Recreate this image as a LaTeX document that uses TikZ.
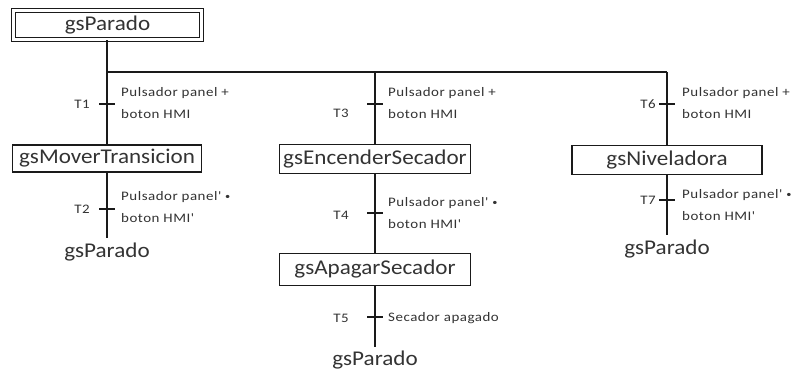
\documentclass[tikz,border=0pt]{standalone}
\usepackage{fontspec}
\setmainfont{Carlito}
\newfontfamily\statefont[FakeStretch=1.1]{Carlito}
\newfontfamily\condfont[FakeStretch=1.15,LetterSpace=4]{Carlito}
\definecolor{ink}{HTML}{1A1A1A}
\definecolor{txt}{HTML}{333333}
\newcommand{\andop}{{\fontsize{9}{9}\selectfont\raisebox{0.5pt}{•}}}
\begin{document}
\begin{tikzpicture}[x=1pt,y=-1pt,
  wire/.style={draw=ink, line width=1.6pt},
  tickline/.style={draw=ink, line width=1.4pt},
  statebox/.style={draw=ink, line width=1.4pt, inner sep=0pt, text=txt,
    font=\statefont\fontsize{21}{23}\selectfont},
  initbox/.style={statebox, double, double distance=2.6pt, line width=1.2pt},
  goto/.style={inner sep=0pt, text=txt, font=\statefont\fontsize{21}{23}\selectfont},
  tlabel/.style={inner sep=0pt, anchor=east, text=txt, font=\condfont\fontsize{13}{15}\selectfont},
  cond/.style={inner sep=0pt, anchor=north west, align=left, text=txt,
    font=\condfont\fontsize{13}{22}\selectfont}
]
\useasboundingbox[fill=white] (0,0) rectangle (799,376);

% initial step and the selection line
\node[initbox, minimum width=188pt, minimum height=29pt] (p0) at (107.5,25) {gsParado};
\coordinate (j0) at (107,72);
\coordinate (j3) at (375,72);
\coordinate (j6) at (667,72);

% states
\node[statebox, minimum width=189pt, minimum height=27pt] (s1) at (107,158.5) {gsMoverTransicion};
\node[statebox, minimum width=191pt, minimum height=29pt] (s3) at (375,159) {gsEncenderSecador};
\node[statebox, minimum width=190pt, minimum height=29pt] (s6) at (667,160) {gsNiveladora};
\node[statebox, minimum width=191pt, minimum height=32pt] (s4) at (375,269.5) {gsApagarSecador};

% loose ends returning to the initial step
\coordinate (e2) at (107,238);
\coordinate (e7) at (667,235);
\coordinate (e5) at (375,347);
\node[goto, anchor=north] (g2) at (107,243) {gsParado};
\node[goto, anchor=north] (g7) at (667,240) {gsParado};
\node[goto, anchor=north] (g5) at (375,351) {gsParado};

% connectors
\draw[wire] (p0.south -| j0) -- (j0);
\draw[wire] (j0) -- (j6);
\draw[wire] (j0) -- (j0 |- s1.north);
\draw[wire] (j3) -- (j3 |- s3.north);
\draw[wire] (j6) -- (j6 |- s6.north);
\draw[wire] (s1.south -| j0) -- (e2);
\draw[wire] (s6.south -| j6) -- (e7);
\draw[wire] (s3.south -| j3) -- (j3 |- s4.north);
\draw[wire] (s4.south -| j3) -- (e5);

% transitions
\coordinate (k1) at (107,104);
\coordinate (k3) at (375,104);
\coordinate (k6) at (667,104);
\coordinate (k2) at (107,209);
\coordinate (k4) at (375,213);
\coordinate (k7) at (667,200);
\coordinate (k5) at (375,317);
\foreach \k in {k1,k2,k3,k4,k5,k6,k7}
  \draw[tickline] ([xshift=-8pt]\k) -- ([xshift=8pt]\k);

\node[tlabel] (l1) at (90,104) {T1};
\node[tlabel] (l3) at (349,113) {T3};
\node[tlabel] (l6) at (656,104) {T6};
\node[tlabel] (l2) at (90,209) {T2};
\node[tlabel] (l4) at (349,215) {T4};
\node[tlabel] (l7) at (656,200) {T7};
\node[tlabel] (l5) at (349,318) {T5};

\node[cond] (c1) at (121,87) {Pulsador panel +\\boton HMI};
\node[cond] (c3) at (388,87) {Pulsador panel +\\boton HMI};
\node[cond] (c6) at (682,87) {Pulsador panel +\\boton HMI};
\node[cond] (c2) at (121,191) {Pulsador panel' \andop\\boton HMI'};
\node[cond] (c4) at (388,197) {Pulsador panel' \andop\\boton HMI'};
\node[cond] (c7) at (682,189) {Pulsador panel' \andop\\boton HMI'};
\node[cond, anchor=west] (c5) at (388,318) {Secador apagado};
\end{tikzpicture}
\end{document}
